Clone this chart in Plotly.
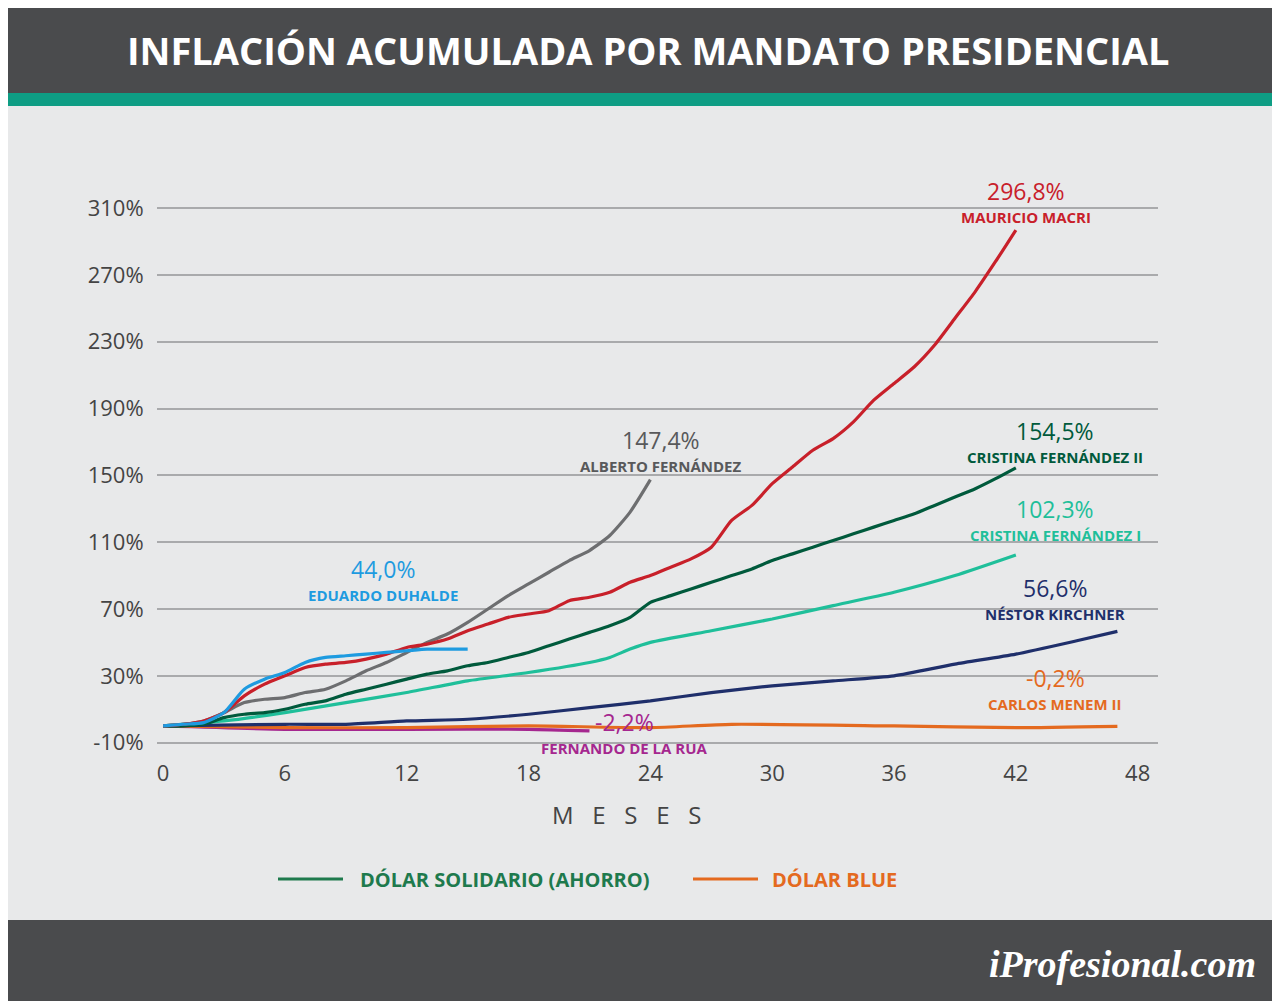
import plotly.graph_objects as go

W, H = 1280, 1001
L, R, T, B = 149, 1150, 190, 738  # plot area in px

# ---- data (months, accumulated inflation %) ----
macri_x = list(range(0, 43))
macri_y = [0, 1, 3, 8, 18, 25, 30, 35, 37, 38, 40, 43, 47, 49, 52, 57, 61, 65, 67, 69, 75, 77, 80, 86,
           90, 95, 100, 107, 123, 132, 145, 155, 165, 172, 182, 195, 205, 215, 228, 244, 260, 278, 296.8]
alberto_x = list(range(0, 25))
alberto_y = [0, 1, 3, 8, 14, 16, 17, 20, 22, 27, 33, 38, 44, 50, 55, 62, 70, 78, 85, 92, 99, 105, 114, 128, 147.4]
duhalde_x = list(range(0, 16))
duhalde_y = [0, 1, 2, 8, 22, 28, 32, 38, 41, 42, 43, 44, 45, 46, 46, 46]
cfk2_x = list(range(0, 43))
cfk2_y = [0, 0, 1, 5, 7, 8, 10, 13, 15, 19, 22, 25, 28, 31, 33, 36, 38, 41, 44, 48, 52, 56, 60, 65,
          74, 78, 82, 86, 90, 94, 99, 103, 107, 111, 115, 119, 123, 127, 132, 137, 142, 148, 154.5]
cfk1_x = [0, 3, 6, 9, 12, 15, 18, 21, 22, 23, 24, 27, 30, 33, 36, 39, 42]
cfk1_y = [0, 3, 8, 14, 20, 27, 32, 38, 41, 46, 50, 57, 64, 72, 80, 90, 102.3]
nestor_x = [0, 6, 9, 12, 15, 18, 21, 24, 27, 30, 33, 36, 39, 42, 45, 47]
nestor_y = [0, 1, 1, 3, 4, 7, 11, 15, 20, 24, 27, 30, 37, 43, 51, 56.6]
menem_x = [0, 6, 12, 18, 24, 28, 36, 42, 47]
menem_y = [0, -1, -1, 0, -1, 1, 0, -1, -0.2]
rua_x = [0, 6, 12, 18, 21]
rua_y = [0, -2, -2, -2, -3]

y_ticks = list(range(-10, 311, 40))
y_ticktext = [f"{v}%" for v in y_ticks]

series = [
    ("Fernando de la Rua", rua_x, rua_y, "#a5278f"),
    ("Carlos Menem II", menem_x, menem_y, "#e46a1f"),
    ("Néstor Kirchner", nestor_x, nestor_y, "#1f2f6b"),
    ("Cristina Fernández I", cfk1_x, cfk1_y, "#1fbf9a"),
    ("Cristina Fernández II", cfk2_x, cfk2_y, "#005a3c"),
    ("Alberto Fernández", alberto_x, alberto_y, "#6d6e70"),
    ("Mauricio Macri", macri_x, macri_y, "#c8202a"),
    ("Eduardo Duhalde", duhalde_x, duhalde_y, "#1e9be0"),
]

# (value label, name label, x px, y px of value, color)
labels = [
    ("296,8%", "MAURICIO MACRI", 1018, 183, "#c8202a"),
    ("147,4%", "ALBERTO FERNÁNDEZ", 653, 432, "#58595b"),
    ("154,5%", "CRISTINA FERNÁNDEZ II", 1047, 423, "#005a3c"),
    ("102,3%", "CRISTINA FERNÁNDEZ I", 1047, 501, "#1fbf9a"),
    ("44,0%", "EDUARDO DUHALDE", 375, 561, "#1e9be0"),
    ("56,6%", "NÉSTOR KIRCHNER", 1047, 580, "#1f2f6b"),
    ("-0,2%", "CARLOS MENEM II", 1047, 670, "#e46a1f"),
    ("-2,2%", "FERNANDO DE LA RUA", 616, 714, "#a5278f"),
]


def px(x):
    return (x - L) / (R - L)


def py(y):
    return (B - y) / (B - T)


fig = go.Figure()
for name, xs, ys, c in series:
    fig.add_trace(go.Scatter(x=xs, y=ys, mode="lines", name=name,
                             line=dict(color=c, width=3.2, shape="spline", smoothing=0.6)))


def note(x, y, text, size, color, family="Open Sans", xanchor="center"):
    return dict(x=px(x), y=py(y), xref="paper", yref="paper", text=text, showarrow=False,
                font=dict(size=size, color=color, family=family), xanchor=xanchor, yanchor="middle")


ann = []
for val, nm, x, y, c in labels:
    ann.append(note(x, y, val, 23, c))
    ann.append(note(x, y + 26, "<b>" + nm + "</b>", 15, c))

ann += [
    note(640, 42, "<b>INFLACIÓN ACUMULADA POR MANDATO PRESIDENCIAL</b>", 38, "white"),
    note(618, 806, "M   E   S   E   S", 24, "#444"),
    note(350, 871, "<b>DÓLAR SOLIDARIO (AHORRO)</b>", 20, "#1e7a4d", xanchor="left"),
    note(762, 871, "<b>DÓLAR BLUE</b>", 20, "#e46a1f", xanchor="left"),
    note(1250, 956, "<b><i>iProfesional.com</i></b>", 38, "white", family="Liberation Serif", xanchor="right"),
]

shapes = [
    dict(type="rect", xref="paper", yref="paper", x0=px(0), x1=px(W), y0=py(0), y1=py(85),
         fillcolor="#4a4b4d", line_width=0, layer="below"),
    dict(type="rect", xref="paper", yref="paper", x0=px(0), x1=px(W), y0=py(85), y1=py(98),
         fillcolor="#0e9d84", line_width=0, layer="below"),
    dict(type="rect", xref="paper", yref="paper", x0=px(0), x1=px(W), y0=py(912), y1=py(H),
         fillcolor="#4a4b4d", line_width=0, layer="below"),
    dict(type="line", xref="paper", yref="paper", x0=px(270), x1=px(335), y0=py(871), y1=py(871),
         line=dict(color="#1e7a4d", width=3)),
    dict(type="line", xref="paper", yref="paper", x0=px(685), x1=px(750), y0=py(871), y1=py(871),
         line=dict(color="#e46a1f", width=3)),
]

fig.update_layout(
    width=W, height=H,
    margin=dict(l=L, r=W - R, t=T, b=H - B),
    paper_bgcolor="#e8e9ea", plot_bgcolor="#e8e9ea",
    showlegend=False,
    xaxis=dict(range=[-0.3, 49], tickvals=list(range(0, 49, 6)), showgrid=False, zeroline=False,
               tickfont=dict(size=22, color="#444", family="Open Sans"),
               ticks="outside", ticklen=8, tickcolor="rgba(0,0,0,0)"),
    yaxis=dict(range=[-12, 316], tickvals=y_ticks, ticktext=y_ticktext,
               gridcolor="#a9aaac", gridwidth=2, zeroline=False,
               ticks="outside", ticklen=8, tickcolor="rgba(0,0,0,0)",
               tickfont=dict(size=22, color="#444", family="Open Sans")),
    annotations=ann, shapes=shapes,
)

fig.write_html("out.html")
